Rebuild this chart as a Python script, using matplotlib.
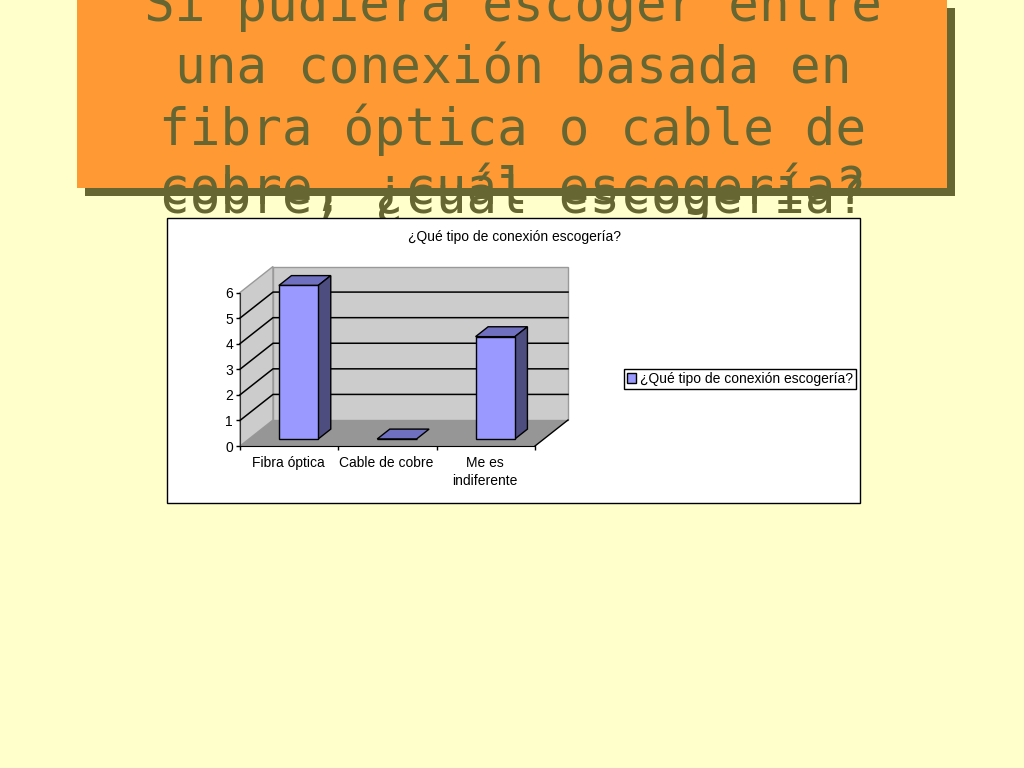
import matplotlib
matplotlib.use('Agg')
import matplotlib.pyplot as plt
from matplotlib.patches import Rectangle, Polygon

# Values
categories = ['Fibra óptica', 'Cable de cobre', 'Me es\nindiferente']
values = [6, 0, 4]
y_ticks = [0, 1, 2, 3, 4, 5, 6]
series_name = '¿Qué tipo de conexión escogería?'
heading_lines = ['Si pudiera escoger entre', 'una conexión basada en',
                 'fibra óptica o cable de', 'cobre, ¿cuál escogería?']

# Colours
BG = '#FFFFCC'
ORANGE = '#FF9933'
OLIVE = '#666633'
WALL = '#CCCCCC'
FLOOR = '#969696'
BAR = '#9999FF'
BAR_TOP = '#7070C0'
BAR_SIDE = '#4D4D80'

W, H = 1024, 768
fig = plt.figure(figsize=(W / 100, H / 100), dpi=100, facecolor=BG)

# Slide layer, in pixels
slide = fig.add_axes([0, 0, 1, 1])
slide.set_xlim(0, W)
slide.set_ylim(H, 0)
slide.axis('off')
slide.add_patch(Rectangle((85, 8), 870, 188, fc=OLIVE, ec='none', zorder=1))
slide.add_patch(Rectangle((77, -2), 870, 190, fc=ORANGE, ec='none', zorder=2))

baselines = [21, 83, 145, 204]
for line, y in zip(heading_lines, baselines):
    slide.text(513, y, line, family='DejaVu Sans Mono', fontsize=36.7, color=OLIVE,
               ha='center', va='baseline', zorder=3)
# the last line shows up a second time, a bit lower
slide.text(513, 213, heading_lines[3], family='DejaVu Sans Mono', fontsize=36.7, color=OLIVE,
           ha='center', va='baseline', zorder=3)

slide.add_patch(Rectangle((167, 218), 693, 285, fc='white', ec='black', lw=1, zorder=4))
slide.text(514, 237, series_name, family='Liberation Sans', fontsize=10, color='black',
           ha='center', va='center', zorder=5)

# Chart axes: front plane of the fake 3D box
x0, x1, y0, y6 = 240, 535, 446, 292.5
ax = fig.add_axes([x0 / W, 1 - y0 / H, (x1 - x0) / W, (y0 - y6) / H])
ax.patch.set_visible(False)
ax.set_xlim(0, 3)
ax.set_ylim(0, 6)

# depth of the box, in data units
dx = 33 / ((x1 - x0) / 3)
dy = 26 / ((y0 - y6) / 6)

ax.add_patch(Polygon([(0, 0), (dx, dy), (dx, 6 + dy), (0, 6)], fc=WALL, ec='#999999', lw=1,
                     clip_on=False, zorder=1))
ax.add_patch(Rectangle((dx, dy), 3, 6, fc=WALL, ec='#999999', lw=1, clip_on=False, zorder=1))
ax.add_patch(Polygon([(0, 0), (3, 0), (3 + dx, dy), (dx, dy)], fc=FLOOR, ec='none',
                     clip_on=False, zorder=2))
ax.plot([3, 3 + dx], [0, dy], color='black', lw=1, clip_on=False, zorder=2)

for t in y_ticks[1:-1]:
    ax.plot([0, dx, 3 + dx], [t, t + dy, t + dy], color='black', lw=1.1, clip_on=False, zorder=3)

# Bars
bar_width = 0.40
front = 0.27
back = 0.65
xs = [i + 0.505 + front * dx for i in range(len(values))]
ax.bar(xs, values, width=bar_width, bottom=front * dy, color=BAR, edgecolor='black', lw=1,
       clip_on=False, zorder=6)
for x, v in zip(xs, values):
    left = x - bar_width / 2
    right = x + bar_width / 2
    base = front * dy
    ox = (back - front) * dx
    oy = (back - front) * dy
    ax.add_patch(Polygon([(left, base + v), (right, base + v), (right + ox, base + v + oy),
                          (left + ox, base + v + oy)], fc=BAR_TOP, ec='black', lw=1,
                         clip_on=False, zorder=5))
    if v > 0:
        ax.add_patch(Polygon([(right, base), (right + ox, base + oy), (right + ox, base + v + oy),
                              (right, base + v)], fc=BAR_SIDE, ec='black', lw=1,
                             clip_on=False, zorder=5))

# Axes and labels
for s in ['top', 'right']:
    ax.spines[s].set_visible(False)
ax.spines['left'].set_color('#333333')
ax.spines['bottom'].set_zorder(7)
ax.set_yticks(y_ticks)
ax.set_xticks([0, 1, 2, 3])
ax.set_xticklabels([])
ax.set_xticks([i + 0.49 for i in range(len(categories))], minor=True)
ax.set_xticklabels(categories, minor=True, family='Liberation Sans', fontsize=10, linespacing=1.42)
ax.tick_params(axis='x', which='major', length=3, width=1, direction='out')
ax.tick_params(axis='x', which='minor', length=0, pad=7)
ax.tick_params(axis='y', length=3, width=1, direction='out', pad=2)
for lab in ax.get_yticklabels():
    lab.set_family('Liberation Sans')
    lab.set_fontsize(10)

# Legend
handle = Rectangle((0, 0), 1, 1, fc=BAR, ec='black', lw=1)
leg = fig.legend([handle], [series_name], loc='center', bbox_to_anchor=(740 / W, 1 - 379 / H),
                 prop={'family': 'Liberation Sans', 'size': 10}, frameon=True, fancybox=False,
                 edgecolor='black', facecolor='white', framealpha=1, handlelength=0.65,
                 handleheight=0.65, handletextpad=0.3, borderpad=0.22, borderaxespad=0)
leg.get_frame().set_linewidth(1)

fig.savefig('out.png', dpi=100, facecolor=BG)
